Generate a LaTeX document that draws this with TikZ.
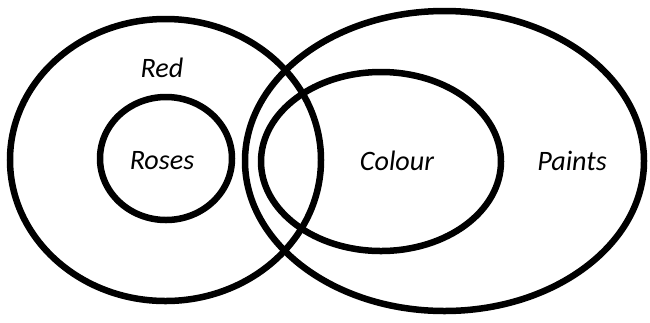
\documentclass[tikz,border=0pt]{standalone}
\usepackage{fontspec}
\setmainfont{Carlito}
\usepackage{tikz}
\usetikzlibrary{positioning}

\tikzset{
    setline/.style={line width=0.195cm, draw=black},
    setlabel/.style={font=\fontsize{24}{28}\selectfont\itshape, text=black, inner sep=0pt}
}

\begin{document}
\begin{tikzpicture}[x=0.03cm, y=-0.03cm]
    \useasboundingbox (0,0) rectangle (650,322);
    % Sets as ellipses: centre x/centre y/x radius/y radius
    \foreach \cx/\cy/\rx/\ry in {165.5/160/155.5/141, 166/158.5/66/61.5, 444.5/161/199.5/150, 381/161.5/120/89.5} {
        \draw[setline] (\cx,\cy) ellipse [x radius=\rx, y radius=\ry];
    }
    % Labels
    \node[setlabel] (red) at (162,68) {Red};
    \node[setlabel] (roses) at (162,161) {Roses};
    \node[setlabel] (colour) at (397,161) {Colour};
    \node[setlabel] (paints) at (572,161) {Paints};
\end{tikzpicture}
\end{document}
